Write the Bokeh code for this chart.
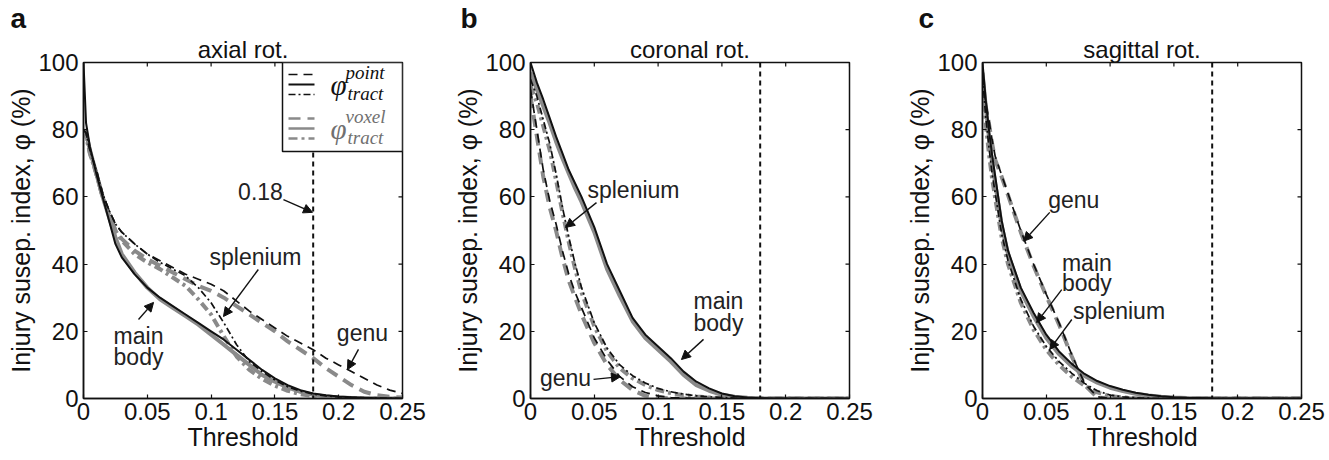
from bokeh.plotting import figure
from bokeh.layouts import row
from bokeh.models import (FixedTicker, Range1d, Span, Label, Arrow, NormalHead, BoxAnnotation, Title)
from bokeh.embed import file_html
from bokeh.resources import INLINE

# ---------------- data ----------------
x_ticks = [0, 0.05, 0.1, 0.15, 0.2, 0.25]
x_tick_labels = ["0", "0.05", "0.1", "0.15", "0.2", "0.25"]
y_ticks = [0, 20, 40, 60, 80, 100]
y_tick_labels = ["0", "20", "40", "60", "80", "100"]
threshold = 0.18

# panel a: axial rotation
a_x = [0, 0.002, 0.005, 0.01, 0.015, 0.02, 0.025, 0.03, 0.04, 0.05, 0.06, 0.07, 0.08, 0.09, 0.1,
       0.11, 0.12, 0.13, 0.14, 0.15, 0.16, 0.17, 0.18, 0.19, 0.2, 0.21, 0.22, 0.23, 0.24, 0.25]
a_main_point = [100, 82, 75, 67, 60, 53, 46, 42, 37, 33, 30, 27.5, 25, 22.5, 20,
                17.5, 14.5, 11.5, 8.5, 6, 4, 2.5, 1.5, 1, 0.6, 0.4, 0.2, 0.1, 0.05, 0]
a_main_voxel = [80, 79, 74, 67, 60, 54, 48, 43, 37.5, 33, 29.5, 27, 24.5, 22, 19,
                16, 13, 10, 7, 5, 3.3, 2, 1.1, 0.6, 0.3, 0.15, 0.1, 0.05, 0, 0]
a_spl_point = [80, 79, 74, 68, 61, 56, 52, 49.5, 46, 43, 40.5, 38.5, 36.5, 33, 28.5,
               22.5, 16, 11, 8, 5.5, 3.5, 2.2, 1.3, 0.8, 0.5, 0.3, 0.2, 0.1, 0.05, 0]
a_spl_voxel = [80, 78, 73, 67, 60, 55, 50, 47, 43, 40.5, 38.5, 36, 33.5, 29.5, 25,
               18.5, 12.5, 8.5, 5.8, 3.8, 2.3, 1.3, 0.7, 0.4, 0.2, 0.1, 0.05, 0, 0, 0]
a_genu_point = [80, 79, 74, 68, 61, 56, 52, 49.5, 46, 43, 41, 39, 37, 35.5, 34,
                32, 29, 26, 23.5, 21, 18.5, 16.5, 14.5, 12, 10, 8, 6, 4, 2.5, 1.5]
a_genu_voxel = [80, 79, 73, 67, 60, 55, 50, 47.5, 44, 41.5, 39.5, 37.5, 35.5, 33.5, 32,
                30, 27.5, 25, 22.5, 20, 17, 14.5, 12, 9, 6.5, 4, 2, 1, 0.5, 0.3]

# panel b: coronal rotation
b_x = [0, 0.005, 0.01, 0.015, 0.02, 0.025, 0.03, 0.035, 0.04, 0.05, 0.06, 0.07, 0.08, 0.09,
       0.1, 0.11, 0.12, 0.13, 0.14, 0.15, 0.16, 0.17, 0.18, 0.2, 0.25]
b_main_point = [100, 94, 89, 83.5, 78, 73, 68, 64, 60, 51, 40, 32, 24, 19,
                15.5, 12, 8, 5, 3, 1.5, 0.7, 0.3, 0.1, 0, 0]
b_main_voxel = [97, 92, 87, 82, 76.5, 71.5, 67, 62.5, 58.5, 49.5, 38.5, 30.5, 23, 18,
                14.5, 11, 7, 4, 2.3, 1.1, 0.5, 0.2, 0, 0, 0]
b_spl_point = [95, 90, 83, 76, 67, 57, 48, 40, 33, 22.5, 15, 10, 6.8, 4.6,
               3, 2, 1.3, 0.8, 0.5, 0.3, 0.1, 0, 0, 0, 0]
b_spl_voxel = [93, 88, 81, 74, 65, 55.5, 46.5, 38.5, 31.5, 21.5, 14, 9, 6, 4,
               2.5, 1.6, 1, 0.6, 0.3, 0.15, 0.05, 0, 0, 0, 0]
b_genu_point = [92, 80, 68, 59, 52, 44, 37, 31.5, 27, 18, 11.5, 6.5, 3.5, 1.8,
                0.8, 0.3, 0.1, 0, 0, 0, 0, 0, 0, 0, 0]
b_genu_voxel = [90, 78, 66, 57, 50, 42, 35, 30, 25, 16.5, 10, 5.5, 2.5, 0.8,
                0.2, 0, 0, 0, 0, 0, 0, 0, 0, 0, 0]

# panel c: sagittal rotation
c_x = [0, 0.0025, 0.005, 0.0075, 0.01, 0.015, 0.02, 0.03, 0.04, 0.05, 0.06, 0.07, 0.08, 0.09,
       0.1, 0.11, 0.12, 0.13, 0.14, 0.15, 0.16, 0.18, 0.2, 0.25]
c_main_point = [100, 89, 80, 72.5, 66, 53, 44, 33, 25.5, 19, 14, 10.3, 7.3, 5.2,
                3.7, 2.6, 1.7, 1.1, 0.7, 0.4, 0.25, 0.1, 0, 0]
c_main_voxel = [97, 87, 78, 70.5, 64, 51.5, 43, 32, 24.5, 18, 13.2, 9.6, 6.7, 4.7,
                3.2, 2.2, 1.4, 0.9, 0.5, 0.3, 0.15, 0.05, 0, 0]
c_spl_point = [96, 84, 75, 67, 61, 49, 41, 29.5, 21.5, 15.5, 11, 7.5, 4.5, 2.3,
               1, 0.5, 0.2, 0.1, 0, 0, 0, 0, 0, 0]
c_spl_voxel = [94, 82, 73, 65.5, 59.5, 48, 40, 28.5, 20.5, 14.5, 10, 6.5, 3.8, 1.8,
               0.7, 0.3, 0.1, 0, 0, 0, 0, 0, 0, 0]
c_genu_point = [96, 88, 83, 77, 72, 66.5, 61, 50, 40, 31, 22.5, 13, 4.5, 0.5,
                0, 0, 0, 0, 0, 0, 0, 0, 0, 0]
c_genu_voxel = [94, 87, 82, 76, 71, 66, 60.5, 49.5, 39.5, 30.5, 22, 12.5, 4, 0.3,
                0, 0, 0, 0, 0, 0, 0, 0, 0, 0]

# ---------------- styles / layout ----------------
FONT = "Liberation Sans"
SERIF = "Liberation Serif"
BLACK = "#111111"
GRAY = "#8a8a8a"
TXT = "#222222"
FRAME_W, FRAME_H = 319, 336
XR, YR = (0, 0.25), (0, 100)
PX_X = (XR[1] - XR[0]) / FRAME_W   # data units per pixel
PX_Y = (YR[1] - YR[0]) / FRAME_H

styles = {
    "genu_point": dict(line_color=BLACK, line_width=1.7, line_dash="9 6"),
    "main_point": dict(line_color=BLACK, line_width=2.0, line_dash="solid"),
    "spl_point": dict(line_color=BLACK, line_width=1.7, line_dash="7 3 2 3"),
    "genu_voxel": dict(line_color=GRAY, line_width=4, line_dash="12 7"),
    "main_voxel": dict(line_color=GRAY, line_width=4, line_dash="solid"),
    "spl_voxel": dict(line_color=GRAY, line_width=4, line_dash="9 4 3 4"),
}
draw_order = ["genu_voxel", "main_voxel", "spl_voxel", "genu_point", "main_point", "spl_point"]


def make_panel(x, series, title, letter, left, right, letter_dx, notes, arrows, legend=False):
    p = figure(frame_width=FRAME_W, frame_height=FRAME_H, x_range=Range1d(*XR), y_range=Range1d(*YR),
               output_backend="svg", toolbar_location=None,
               min_border_left=left, min_border_right=right, min_border_top=0, min_border_bottom=58)
    p.title.visible = False
    p.grid.visible = False
    p.outline_line_color = BLACK
    p.outline_line_width = 1.5
    p.background_fill_color = "white"

    for ax, ticks, labels in ((p.xaxis[0], x_ticks, x_tick_labels), (p.yaxis[0], y_ticks, y_tick_labels)):
        ax.ticker = FixedTicker(ticks=ticks)
        ax.major_label_overrides = {t: l for t, l in zip(ticks, labels)}
        ax.major_tick_in = 4
        ax.major_tick_out = 0
        ax.minor_tick_line_color = None
        ax.major_tick_line_color = BLACK
        ax.major_tick_line_width = 1.2
        ax.axis_line_color = BLACK
        ax.axis_line_width = 1.5
        ax.major_label_text_font = FONT
        ax.major_label_text_font_size = "24px"
        ax.major_label_text_color = BLACK
        ax.axis_label_text_font = FONT
        ax.axis_label_text_font_size = "25px"
        ax.axis_label_text_font_style = "normal"
        ax.axis_label_text_color = BLACK
    p.xaxis[0].major_label_standoff = 4
    p.xaxis[0].axis_label = "Threshold"
    p.xaxis[0].axis_label_standoff = 0
    p.yaxis[0].major_label_standoff = 5
    p.yaxis[0].axis_label = "Injury susep. index, φ (%)"
    p.yaxis[0].axis_label_standoff = 0

    # inward ticks on the top and right edges of the box
    tick_len_y = 4 * PX_Y
    tick_len_x = 4 * PX_X
    p.segment(x0=x_ticks, x1=x_ticks, y0=[YR[1]] * len(x_ticks), y1=[YR[1] - tick_len_y] * len(x_ticks),
              line_color=BLACK, line_width=1.2)
    p.segment(x0=[XR[1]] * len(y_ticks), x1=[XR[1] - tick_len_x] * len(y_ticks), y0=y_ticks, y1=y_ticks,
              line_color=BLACK, line_width=1.2)

    # title and panel letter above the frame
    p.add_layout(Title(text=title, text_font=FONT, text_font_size="24px", text_font_style="normal",
                       text_color=BLACK, align="center", standoff=0), "above")
    p.add_layout(Title(text=letter, text_font=FONT, text_font_size="28px", text_font_style="bold",
                       text_color=BLACK, align="left", offset=letter_dx, standoff=0), "above")

    p.add_layout(Span(location=threshold, dimension="height", line_color=BLACK,
                      line_width=2, line_dash="5 4"))

    for key in draw_order:
        p.line(x, series[key], **styles[key])

    for txt, tx, ty in notes:
        p.add_layout(Label(x=tx, y=ty, text=txt, text_font=FONT, text_font_size="23px",
                           text_color=TXT, text_align="center", text_baseline="middle"))
    for x0, y0, x1, y1 in arrows:
        p.add_layout(Arrow(x_start=x0, y_start=y0, x_end=x1, y_end=y1, line_color=BLACK, line_width=1.4,
                           end=NormalHead(size=9, fill_color=BLACK, line_color=BLACK)))

    if legend:
        box_left, box_bottom = XR[1] - 120 * PX_X, YR[1] - 89 * PX_Y
        p.add_layout(BoxAnnotation(left=box_left, right=XR[1], bottom=box_bottom, top=YR[1],
                                   fill_color="white", fill_alpha=1, line_color=BLACK,
                                   line_width=1.5, line_alpha=1))
        sw_x0, sw_x1 = box_left + 6 * PX_X, box_left + 32 * PX_X
        groups = ((["genu_point", "main_point", "spl_point"], 12, "point", BLACK),
                  (["genu_voxel", "main_voxel", "spl_voxel"], 56, "voxel", "#707070"))
        for keys, top_px, sup, col in groups:
            for i, k in enumerate(keys):
                yy = YR[1] - (top_px + 10 * i) * PX_Y
                st = dict(styles[k])
                st["line_width"] = min(st["line_width"], 2.5)
                p.line([sw_x0, sw_x1], [yy, yy], level="overlay", **st)
            ymid = YR[1] - (top_px + 10) * PX_Y
            p.add_layout(Label(x=box_left + 48 * PX_X, y=ymid, text="φ", text_font=SERIF,
                               text_font_style="italic", text_font_size="29px", text_color=col,
                               text_baseline="middle", level="overlay"))
            p.add_layout(Label(x=box_left + 63 * PX_X, y=ymid + 12 * PX_Y, text=sup,
                               text_font=SERIF, text_font_style="italic",
                               text_font_size="19px", text_color=col, text_baseline="middle",
                               level="overlay"))
            p.add_layout(Label(x=box_left + 65 * PX_X, y=ymid - 9 * PX_Y, text="tract",
                               text_font=SERIF, text_font_style="italic",
                               text_font_size="19px", text_color=col, text_baseline="middle",
                               level="overlay"))
    return p


pa = make_panel(a_x, {"genu_point": a_genu_point, "main_point": a_main_point, "spl_point": a_spl_point,
                      "genu_voxel": a_genu_voxel, "main_voxel": a_main_voxel, "spl_voxel": a_spl_voxel},
                "axial rot.", "a", 83, 41, -73,
                [("0.18", 0.1387, 61.6), ("splenium", 0.1348, 42.0), ("main", 0.0431, 18.5),
                 ("body", 0.0431, 12.3), ("genu", 0.2186, 19.6)],
                [(0.1567, 59.2, 0.1795, 55.4), (0.137, 38.4, 0.1097, 24.4),
                 (0.0431, 23.5, 0.0549, 28.6), (0.2155, 14.6, 0.2069, 8.6)], legend=True)
pb = make_panel(b_x, {"genu_point": b_genu_point, "main_point": b_main_point, "spl_point": b_spl_point,
                      "genu_voxel": b_genu_voxel, "main_voxel": b_main_voxel, "spl_voxel": b_spl_voxel},
                "coronal rot.", "b", 87, 37, -70,
                [("splenium", 0.0807, 62.2), ("main", 0.1473, 28.9), ("body", 0.1473, 22.6),
                 ("genu", 0.0274, 6.2)],
                [(0.0517, 58.3, 0.0274, 50.9), (0.1356, 17.6, 0.1183, 11.6), (0.0494, 5.7, 0.0705, 6.5)])
pc = make_panel(c_x, {"genu_point": c_genu_point, "main_point": c_main_point, "spl_point": c_spl_point,
                      "genu_voxel": c_genu_voxel, "main_voxel": c_main_voxel, "spl_voxel": c_spl_voxel},
                "sagittal rot.", "c", 96, 26, -64,
                [("genu", 0.0715, 59.2), ("main", 0.0818, 40.4), ("body", 0.0818, 34.5),
                 ("splenium", 0.107, 25.9)],
                [(0.0527, 55.4, 0.0322, 46.8), (0.0621, 32.4, 0.0424, 22.6), (0.07, 23.5, 0.0527, 14.6)])

layout = row(pa, pb, pc, spacing=0)
open("out.html", "w").write(file_html(layout, INLINE))
